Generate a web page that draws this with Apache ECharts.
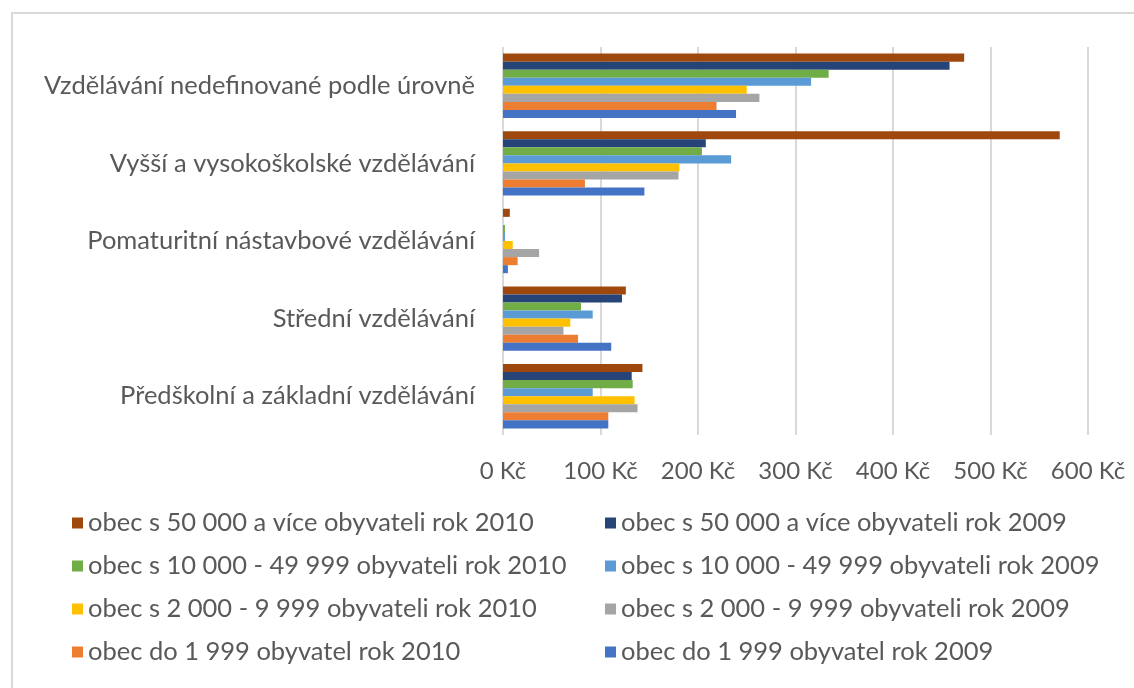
<!DOCTYPE html>
<html>
<head>
<meta charset="utf-8">
<script src="https://cdn.jsdelivr.net/npm/echarts@6/dist/echarts.min.js"></script>
<style>
  html, body { margin: 0; padding: 0; background: #fff; }
  #chart { width: 1134px; height: 688px; }
</style>
</head>
<body>
<div id="chart"></div>
<script>
// categories bottom -> top (as the y axis draws them)
const categories = [
  'Předškolní a základní vzdělávání',
  'Střední vzdělávání',
  'Pomaturitní nástavbové vzdělávání',
  'Vyšší a vysokoškolské vzdělávání',
  'Vzdělávání nedefinované podle úrovně'
]
const xTicks = [0, 100, 200, 300, 400, 500, 600]

const do1999_2009 = [108, 111, 5, 145, 239]
const do1999_2010 = [108, 77, 15, 84, 219]
const s2000_2009 = [138, 62, 37, 180, 263]
const s2000_2010 = [135, 69, 10, 181, 250]
const s10000_2009 = [92, 92, 2, 234, 316]
const s10000_2010 = [133, 80, 2, 204, 334]
const s50000_2009 = [132, 122, 0, 208, 458]
const s50000_2010 = [143, 126, 7, 571, 473]

// top bar of each group first (echarts stacks the group downwards)
const seriesDefs = [
  { name: 'obec s 50 000 a více obyvateli rok 2010', data: s50000_2010, color: '#9E480E' },
  { name: 'obec s 50 000 a více obyvateli rok 2009', data: s50000_2009, color: '#264478' },
  { name: 'obec s 10 000 - 49 999 obyvateli rok 2010', data: s10000_2010, color: '#70AD47' },
  { name: 'obec s 10 000 - 49 999 obyvateli rok 2009', data: s10000_2009, color: '#5B9BD5' },
  { name: 'obec s 2 000 - 9 999 obyvateli rok 2010', data: s2000_2010, color: '#FFC000' },
  { name: 'obec s 2 000 - 9 999 obyvateli rok 2009', data: s2000_2009, color: '#A5A5A5' },
  { name: 'obec do 1 999 obyvatel rok 2010', data: do1999_2010, color: '#ED7D31' },
  { name: 'obec do 1 999 obyvatel rok 2009', data: do1999_2009, color: '#4472C4' }
]

const fontFamily = 'Lato, "Open Sans", sans-serif'
const textColor = '#595959'

const chart = echarts.init(document.getElementById('chart'), null, { renderer: 'canvas' })

const legendStyle = {
  orient: 'vertical',
  itemWidth: 11,
  itemHeight: 11,
  itemGap: 17,
  icon: 'rect',
  textStyle: { color: textColor, fontSize: 25.5, fontFamily: fontFamily, lineHeight: 26 }
}

chart.setOption({
  animation: false,
  graphic: [{
    type: 'rect',
    shape: { x: 12, y: 13, width: 1200, height: 800 },
    style: { fill: 'none', stroke: '#d9d9d9', lineWidth: 2 },
    silent: true
  }],
  grid: {
    left: 503,
    right: 46,
    top: 47,
    height: 388
  },
  legend: [
    Object.assign({
      left: 67, top: 505,
      data: [seriesDefs[0].name, seriesDefs[2].name, seriesDefs[4].name, seriesDefs[6].name]
    }, legendStyle),
    Object.assign({
      left: 600, top: 505,
      data: [seriesDefs[1].name, seriesDefs[3].name, seriesDefs[5].name, seriesDefs[7].name]
    }, legendStyle)
  ],
  xAxis: {
    type: 'value',
    min: xTicks[0],
    max: xTicks[xTicks.length - 1],
    interval: 100,
    axisLine: { show: false },
    axisTick: { show: false },
    splitLine: { lineStyle: { color: '#d9d9d9', width: 2 } },
    axisLabel: {
      margin: 24,
      color: textColor,
      fontSize: 24,
      fontFamily: fontFamily,
      formatter: v => v + ' Kč'
    }
  },
  yAxis: {
    type: 'category',
    data: categories,
    axisLine: { show: false },
    axisTick: { show: false },
    axisLabel: {
      margin: 28,
      color: textColor,
      fontSize: 25.5,
      fontFamily: fontFamily
    }
  },
  series: seriesDefs.map(s => ({
    name: s.name,
    type: 'bar',
    data: s.data,
    barGap: '0%',
    barCategoryGap: '17%',
    itemStyle: { color: s.color }
  }))
})
</script>
</body>
</html>
